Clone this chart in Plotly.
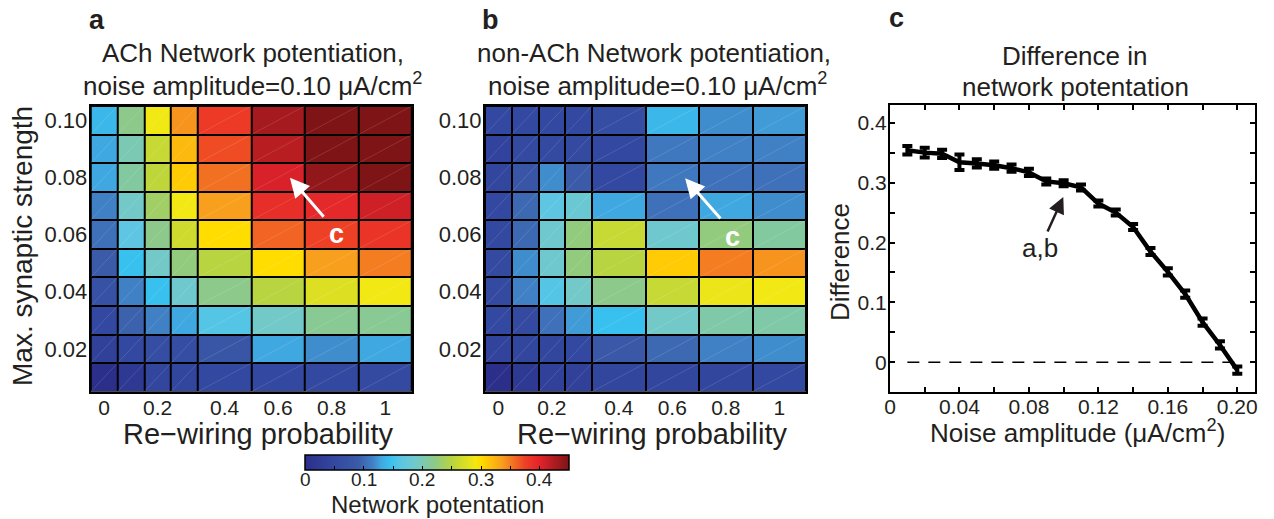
import numpy as np
import plotly.graph_objects as go

# ---------------- data ----------------
rewiring = [0, 0.1, 0.2, 0.3, 0.4, 0.6, 0.8, 1.0]
rewiring_labels = ["0", "0.2", "0.4", "0.6", "0.8", "1"]
labelled_rewiring = [0, 0.2, 0.4, 0.6, 0.8, 1.0]

# rows from top (0.10) to bottom (0.01)
strength = [0.10, 0.09, 0.08, 0.07, 0.06, 0.05, 0.04, 0.03, 0.02, 0.01]
strength_ticks = [0.02, 0.04, 0.06, 0.08, 0.10]
strength_labels = ["0.02", "0.04", "0.06", "0.08", "0.10"]

ach = [
    [0.140, 0.220, 0.290, 0.340, 0.380, 0.430, 0.450, 0.450],
    [0.130, 0.200, 0.260, 0.320, 0.370, 0.420, 0.450, 0.450],
    [0.130, 0.210, 0.255, 0.310, 0.355, 0.405, 0.440, 0.450],
    [0.115, 0.190, 0.235, 0.290, 0.335, 0.390, 0.395, 0.410],
    [0.105, 0.165, 0.220, 0.265, 0.300, 0.360, 0.375, 0.385],
    [0.090, 0.145, 0.190, 0.225, 0.250, 0.300, 0.335, 0.350],
    [0.070, 0.115, 0.145, 0.185, 0.220, 0.250, 0.275, 0.290],
    [0.050, 0.095, 0.115, 0.130, 0.160, 0.190, 0.215, 0.215],
    [0.035, 0.050, 0.060, 0.060, 0.080, 0.130, 0.120, 0.130],
    [0.000, 0.020, 0.045, 0.045, 0.050, 0.050, 0.050, 0.055],
]

nonach = [
    [0.050, 0.050, 0.050, 0.050, 0.060, 0.140, 0.120, 0.125],
    [0.040, 0.055, 0.055, 0.055, 0.050, 0.110, 0.115, 0.115],
    [0.045, 0.080, 0.120, 0.090, 0.050, 0.110, 0.105, 0.105],
    [0.050, 0.100, 0.165, 0.180, 0.130, 0.105, 0.130, 0.120],
    [0.050, 0.100, 0.185, 0.225, 0.260, 0.185, 0.225, 0.210],
    [0.055, 0.120, 0.185, 0.225, 0.250, 0.310, 0.350, 0.340],
    [0.055, 0.115, 0.160, 0.190, 0.220, 0.260, 0.285, 0.290],
    [0.050, 0.055, 0.105, 0.125, 0.145, 0.190, 0.205, 0.205],
    [0.040, 0.045, 0.045, 0.050, 0.085, 0.100, 0.115, 0.120],
    [0.000, 0.020, 0.035, 0.035, 0.045, 0.045, 0.045, 0.050],
]

noise = [0.01, 0.02, 0.03, 0.04, 0.05, 0.06, 0.07, 0.08, 0.09, 0.10,
         0.11, 0.12, 0.13, 0.14, 0.15, 0.16, 0.17, 0.18, 0.19, 0.20]
difference = [0.354, 0.350, 0.348, 0.334, 0.332, 0.329, 0.324, 0.317, 0.302, 0.299,
              0.292, 0.265, 0.250, 0.226, 0.185, 0.151, 0.114, 0.067, 0.029, -0.013]
difference_err = [0.007, 0.008, 0.007, 0.013, 0.007, 0.006, 0.006, 0.006, 0.005, 0.005,
                  0.005, 0.005, 0.005, 0.005, 0.006, 0.006, 0.006, 0.006, 0.006, 0.006]

c_xticks = [0, 0.02, 0.04, 0.06, 0.08, 0.10, 0.12, 0.14, 0.16, 0.18, 0.20]
c_xlabels = ["0", " ", "0.04", " ", "0.08", " ", "0.12", " ", "0.16", " ", "0.20"]
c_yticks = [-0.05, 0, 0.05, 0.1, 0.15, 0.2, 0.25, 0.3, 0.35, 0.4]
c_ylabels = [" ", "0", " ", "0.1", " ", "0.2", " ", "0.3", " ", "0.4"]

cbar_ticks = [0, 0.05, 0.1, 0.15, 0.2, 0.25, 0.3, 0.35, 0.4]
cbar_label_vals = [0, 0.1, 0.2, 0.3, 0.4]
cbar_labels = ["0", "0.1", "0.2", "0.3", "0.4"]

CMAX = 0.45
cmap_stops = [
    (0.00, "#2b2f8a"), (0.05, "#3348a0"), (0.09, "#3b5aa8"), (0.115, "#4080c4"),
    (0.13, "#40a8e0"), (0.145, "#38c0ee"), (0.165, "#5ec6e2"), (0.19, "#72c9c8"),
    (0.22, "#8cc98a"), (0.25, "#b8d440"), (0.275, "#dde022"), (0.29, "#f2e814"),
    (0.30, "#ffdd00"), (0.31, "#ffcb05"), (0.335, "#f8a01d"), (0.355, "#f27022"),
    (0.375, "#ee4025"), (0.40, "#e3222a"), (0.42, "#b81d22"), (0.45, "#7e1416"),
]
colorscale = [[v / CMAX, c] for v, c in cmap_stops]

# ---------------- geometry from data ----------------
rw = np.array(rewiring)
widths = np.append(np.diff(rw), rw[-1] - rw[-2])
edges = np.concatenate([[0.0], np.cumsum(widths)])
centers = edges[:-1] + widths / 2
tick_pos = [float(centers[rewiring.index(v)]) for v in labelled_rewiring]

y_plot = strength[::-1]
ach_plot = ach[::-1]
nonach_plot = nonach[::-1]
ys = np.array(y_plot)
dy = ys[1] - ys[0]
y_edges = np.concatenate([ys - dy / 2, [ys[-1] + dy / 2]])

# faint rendering diagonals inside each cell (bottom-left to top-right)
diag_x, diag_y = [], []
for i in range(len(edges) - 1):
    for j in range(len(y_edges) - 1):
        diag_x += [float(edges[i]), float(edges[i + 1]), None]
        diag_y += [float(y_edges[j]), float(y_edges[j + 1]), None]

FONT = "Liberation Sans, Arial, sans-serif"
TXT = "#231f20"

fig = go.Figure()
for z, xa, ya in [(ach_plot, "x", "y"), (nonach_plot, "x2", "y2")]:
    fig.add_trace(go.Heatmap(
        z=z, x=edges, y=y_plot, xaxis=xa, yaxis=ya, coloraxis="coloraxis",
        xgap=2, ygap=2, hoverinfo="skip"))
    fig.add_trace(go.Scatter(
        x=diag_x, y=diag_y, mode="lines", xaxis=xa, yaxis=ya,
        line=dict(color="rgba(255,255,255,0.22)", width=0.6),
        showlegend=False, hoverinfo="skip"))

fig.add_trace(go.Scatter(
    x=noise, y=difference, mode="lines", xaxis="x3", yaxis="y3",
    line=dict(color="black", width=4.5),
    error_y=dict(type="data", array=difference_err, visible=True,
                 color="black", thickness=4, width=5),
    showlegend=False, hoverinfo="skip"))

x_range = [float(edges[0]), float(edges[-1])]
y_range = [float(y_edges[0]), float(y_edges[-1])]

def heat_x(domain, anchor):
    return dict(domain=domain, anchor=anchor, range=x_range, tickvals=tick_pos,
                ticktext=rewiring_labels, ticks="", showgrid=False, zeroline=False,
                showline=True, mirror=True, linecolor="black", linewidth=2,
                ticklabelstandoff=-4,
                tickfont=dict(size=21, color=TXT, family=FONT), fixedrange=True)

def heat_y(domain, anchor):
    return dict(domain=domain, anchor=anchor, range=y_range, tickvals=strength_ticks,
                ticktext=strength_labels, ticks="", showgrid=False, zeroline=False,
                showline=True, mirror=True, linecolor="black", linewidth=2,
                ticklabelstandoff=-3,
                tickfont=dict(size=22, color=TXT, family=FONT), fixedrange=True)

W, H = 1274, 519
def px(xp): return xp / W
def py(yp): return 1 - yp / H

CB_X0, CB_X1 = 305.0, 569.3

layout = dict(
    width=W, height=H, margin=dict(l=0, r=0, t=0, b=0, autoexpand=False),
    paper_bgcolor="white", plot_bgcolor="black", showlegend=False,
    font=dict(family=FONT, color=TXT),
    xaxis=heat_x([px(90.7), px(412)], "y"),
    yaxis=heat_y([py(391.7), py(106)], "x"),
    xaxis2=heat_x([px(485), px(806)], "y2"),
    yaxis2=heat_y([py(391.7), py(106)], "x2"),
    xaxis3=dict(domain=[px(890), px(1255)], anchor="y3", range=[0, 0.2102],
                tickvals=c_xticks, ticktext=c_xlabels, ticks="inside", ticklen=5,
                tickwidth=1.5, tickcolor="black", showgrid=False, zeroline=False,
                showline=True, mirror="ticks", linecolor="black", linewidth=2,
                ticklabelstandoff=-6,
                tickfont=dict(size=21, color=TXT, family=FONT)),
    yaxis3=dict(domain=[py(392.3), py(104.7)], anchor="x3", range=[-0.05, 0.43],
                tickvals=c_yticks, ticktext=c_ylabels, ticks="inside", ticklen=5,
                tickwidth=1.5, tickcolor="black", showgrid=False, zeroline=False,
                showline=True, mirror="ticks", linecolor="black", linewidth=2,
                ticklabelstandoff=-3,
                tickfont=dict(size=21, color=TXT, family=FONT)),
    coloraxis=dict(
        colorscale=colorscale, cmin=0, cmax=CMAX,
        colorbar=dict(orientation="h", x=px((CB_X0 + CB_X1) / 2), xanchor="center",
                      y=py(455), yanchor="top", len=(CB_X1 - CB_X0) / W, lenmode="fraction",
                      thickness=15, thicknessmode="pixels", outlinecolor="black",
                      outlinewidth=1.5, tickmode="array", tickvals=cbar_ticks,
                      showticklabels=False, ticks="inside", ticklen=4, tickwidth=1.2,
                      tickcolor="black", xpad=0, ypad=0)),
)
fig.update_layout(**layout)

# white background behind panel c
fig.add_shape(type="rect", xref="x3 domain", yref="y3 domain", x0=0, x1=1, y0=0, y1=1,
              fillcolor="white", line=dict(width=0), layer="below")
# dashed zero line
fig.add_shape(type="line", xref="x3", yref="y3", x0=noise[0], x1=noise[-1], y0=0, y1=0,
              line=dict(color="black", width=1.5, dash="12px,9px"))

ann = []
def text(x, y, s, size, bold=False, angle=0, color=TXT):
    ann.append(dict(x=px(x), y=py(y), xref="paper", yref="paper", text=("<b>%s</b>" % s) if bold else s,
                    showarrow=False, xanchor="center", yanchor="middle", textangle=angle,
                    font=dict(size=size, color=color, family=FONT)))

# colorbar tick labels (placed along the colorbar's own value scale)
for v, lab in zip(cbar_label_vals, cbar_labels):
    text(CB_X0 + v / CMAX * (CB_X1 - CB_X0), 479, lab, 19)

# panel letters
text(97, 20, "a", 27, bold=True)
text(490, 20, "b", 27, bold=True)
text(896, 18, "c", 27, bold=True)
# titles
text(252.5, 53, "ACh Network potentiation,", 26)
text(252.5, 84, "noise amplitude=0.10 μA/cm<sup>2</sup>", 26)
text(653.5, 53, "non-ACh Network potentiation,", 26)
text(657.5, 84, "noise amplitude=0.10 μA/cm<sup>2</sup>", 26)
text(1075, 56, "Difference in", 26)
text(1075, 87, "network potentation", 26)
# axis titles
text(22, 246, "Max. synaptic strength", 28, angle=-90)
text(258, 434, "Re−wiring probability", 29)
text(652, 434, "Re−wiring probability", 29)
text(840, 262, "Difference", 26, angle=-90)
text(1077, 431, "Noise amplitude (μA/cm<sup>2</sup>)", 26)
text(438, 504, "Network potentation", 24)

# white arrows + "c" labels in heatmaps
for xa, ya, head, tail, cpos in [("x", "y", (0.744, 0.0799), (0.875, 0.0657), (0.919, 0.0601)),
                                 ("x2", "y2", (0.748, 0.0797), (0.885, 0.0651), (0.924, 0.0593))]:
    ann.append(dict(x=head[0], y=head[1], xref=xa, yref=ya, ax=tail[0], ay=tail[1],
                    axref=xa, ayref=ya, text="", showarrow=True, arrowhead=2,
                    arrowsize=1.3, arrowwidth=3, arrowcolor="white"))
    ann.append(dict(x=cpos[0], y=cpos[1], xref=xa, yref=ya, text="<b>c</b>", showarrow=False,
                    font=dict(size=27, color="white", family=FONT)))

# black arrow in panel c
ann.append(dict(x=0.0998, y=0.276, xref="x3", yref="y3", ax=0.0864, ay=0.191,
                axref="x3", ayref="y3", text="a,b", showarrow=True, arrowhead=2,
                arrowsize=1.3, arrowwidth=2.5, arrowcolor="#231f20",
                font=dict(size=26, color=TXT, family=FONT)))

fig.update_layout(annotations=ann)
fig.write_html("out.html")
